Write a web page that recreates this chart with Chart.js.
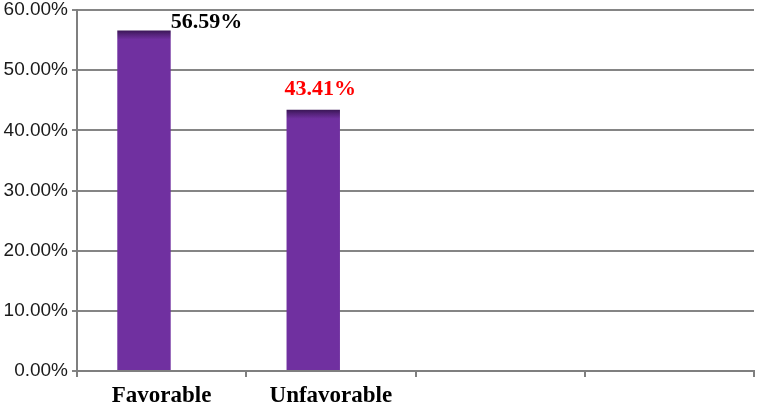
<!DOCTYPE html>
<html>
<head>
<meta charset="utf-8">
<script src="https://cdn.jsdelivr.net/npm/chart.js@4"></script>
<style>
  html, body { margin: 0; padding: 0; background: #fff; }
  #wrap { width: 759px; height: 409px; }
</style>
</head>
<body>
<div id="wrap"><canvas id="chart" width="759" height="409"></canvas></div>
<script>
// categories and values
const categories = ['Favorable', 'Unfavorable', '', ''];
const shares = [56.59, 43.41, null, null];
const spacer = [null, null, null, null]; // empty second series, keeps the bar left of the slot centre
const valueLabels = ['56.59%', '43.41%'];
const labelColors = ['#000000', '#ff0000'];
const yTicks = [0, 10, 20, 30, 40, 50, 60];

// bar fill with the dark band on top
function barFill(ctx) {
    const chart = ctx.chart;
    const v = ctx.parsed ? ctx.parsed.y : null;
    if (!chart.chartArea || v == null) return '#7030a0';
    const top = chart.scales.y.getPixelForValue(v);
    const g = chart.ctx.createLinearGradient(0, top, 0, top + 9);
    g.addColorStop(0, '#3a1656');
    g.addColorStop(0.45, '#55237a');
    g.addColorStop(1, '#7030a0');
    return g;
}

// draws the percentage above each bar
const valueLabelPlugin = {
    id: 'valueLabels',
    afterDatasetsDraw(chart) {
        const ctx = chart.ctx;
        const bars = chart.getDatasetMeta(0).data;
        ctx.save();
        ctx.font = 'bold 22px "Liberation Serif", "Times New Roman", serif';
        ctx.textBaseline = 'alphabetic';
        ctx.textAlign = 'left';
        bars.forEach((bar, i) => {
            if (!valueLabels[i]) return;
            const half = bar.width / 2;
            ctx.fillStyle = labelColors[i];
            if (i === 0) {
                ctx.fillText(valueLabels[i], bar.x + half, bar.y - 3);
            } else {
                ctx.fillText(valueLabels[i], bar.x - half - 2, bar.y - 15);
            }
        });
        ctx.restore();
    }
};

new Chart(document.getElementById('chart'), {
    type: 'bar',
    data: {
        labels: categories,
        datasets: [
            {
                data: shares,
                backgroundColor: barFill,
                borderWidth: 0,
                categoryPercentage: 0.4166,
                barPercentage: 1.515
            },
            {
                data: spacer,
                backgroundColor: 'rgba(0,0,0,0)',
                categoryPercentage: 0.4166,
                barPercentage: 1.515
            }
        ]
    },
    options: {
        responsive: false,
        animation: false,
        layout: { padding: { top: 0, right: 5, left: 0, bottom: 0 } },
        plugins: {
            legend: { display: false },
            tooltip: { enabled: false }
        },
        scales: {
            x: {
                grid: {
                    display: true,
                    drawOnChartArea: false,
                    offset: true,
                    tickLength: 6,
                    color: '#7f7f7f',
                    lineWidth: 2
                },
                border: { display: true, color: '#7f7f7f', width: 2 },
                ticks: {
                    color: '#000',
                    padding: 5,
                    font: { family: '"Liberation Serif", "Times New Roman", serif', size: 23, weight: 'bold' },
                    maxRotation: 0
                },
                afterFit(scale) { scale.height = 38; }
            },
            y: {
                min: 0,
                max: 60,
                afterBuildTicks(scale) { scale.ticks = yTicks.map(v => ({ value: v })); },
                grid: {
                    color: '#858585',
                    lineWidth: 2,
                    tickLength: 5
                },
                border: { display: true, color: '#7f7f7f', width: 2 },
                ticks: {
                    color: '#1a1a1a',
                    padding: 4,
                    font: { family: '"Liberation Sans", Arial, sans-serif', size: 19 },
                    callback: v => v.toFixed(2) + '%'
                },
                afterFit(scale) {
                    scale.width = 77;
                    scale.paddingTop = 10;
                    scale.paddingBottom = 0;
                }
            }
        }
    },
    plugins: [valueLabelPlugin]
});
</script>
</body>
</html>
